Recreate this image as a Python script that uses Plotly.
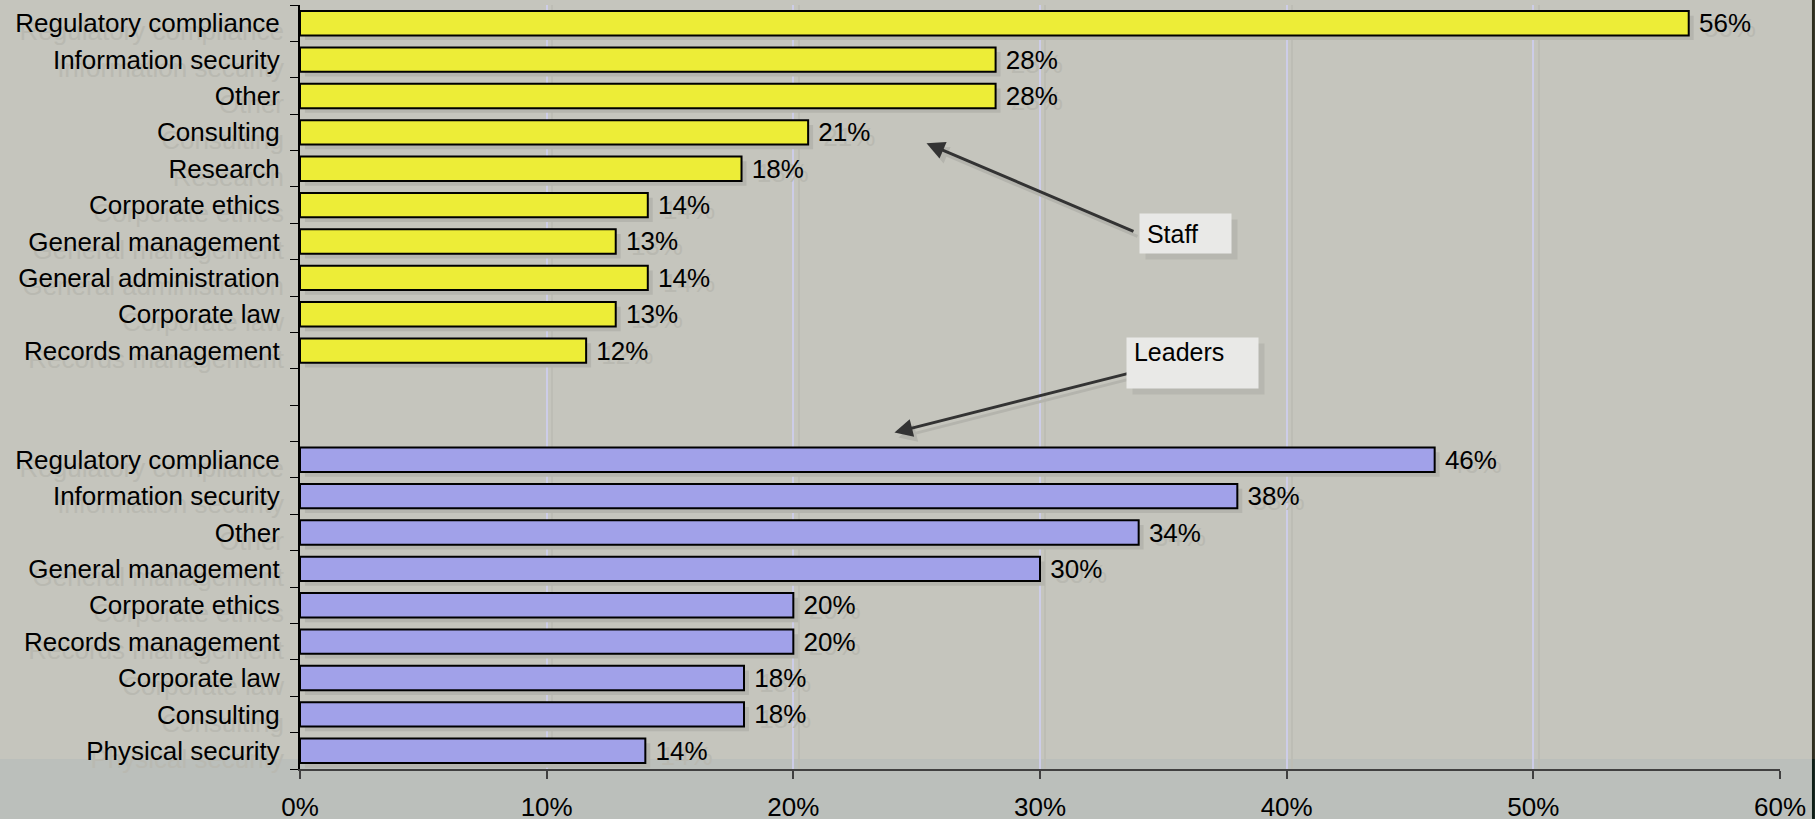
import plotly.graph_objects as go

# ---- data ----
staff_categories = ["Regulatory compliance", "Information security", "Other", "Consulting",
                    "Research", "Corporate ethics", "General management",
                    "General administration", "Corporate law", "Records management"]
staff_values = [56.3, 28.2, 28.2, 20.6, 17.9, 14.1, 12.8, 14.1, 12.8, 11.6]

leader_categories = ["Regulatory compliance", "Information security", "Other",
                     "General management", "Corporate ethics", "Records management",
                     "Corporate law", "Consulting", "Physical security"]
leader_values = [46.0, 38.0, 34.0, 30.0, 20.0, 20.0, 18.0, 18.0, 14.0]

gap_slots = 2
x_ticks = [0, 10, 20, 30, 40, 50, 60]
x_tick_labels = ["0%", "10%", "20%", "30%", "40%", "50%", "60%"]

# ---- derived positions (slot indices) ----
staff_pos = list(range(len(staff_categories)))
leader_start = len(staff_categories) + gap_slots
leader_pos = [leader_start + i for i in range(len(leader_categories))]
n_slots = leader_start + len(leader_categories)
all_pos = staff_pos + leader_pos
all_labels = staff_categories + leader_categories
boundaries = [i - 0.5 for i in range(n_slots + 1)]

FONT = "Arial, Liberation Sans, sans-serif"
FS = 26
BG = "#C5C5BD"
GHOST = "#B9B9B1"
YELLOW = "#EDED37"
PURPLE = "#A1A1E9"
BAR_W = 0.67


def labels(vals):
    return [f" {v:.0f}%" for v in vals]


fig = go.Figure()

# shadow bars (on main y axis, drawn underneath)
for pos, vals in ((staff_pos, staff_values), (leader_pos, leader_values)):
    fig.add_trace(go.Bar(
        y=pos, x=vals, base=0.2, orientation="h", width=BAR_W,
        offset=-BAR_W / 2 + 0.13,
        marker=dict(color="#B5B5AE", line=dict(width=0)),
        text=labels(vals), textposition="outside", constraintext="none",
        textfont=dict(family=FONT, size=FS, color=GHOST),
        cliponaxis=False, hoverinfo="skip", showlegend=False,
        xaxis="x", yaxis="y"))

# real bars (on overlaid y axis)
fig.add_trace(go.Bar(
    y=staff_pos, x=staff_values, orientation="h", width=BAR_W,
    marker=dict(color=YELLOW, line=dict(color="black", width=2)),
    text=labels(staff_values), textposition="outside", constraintext="none",
    textfont=dict(family=FONT, size=FS, color="black"),
    cliponaxis=False, showlegend=False, name="Staff",
    xaxis="x", yaxis="y2"))
fig.add_trace(go.Bar(
    y=leader_pos, x=leader_values, orientation="h", width=BAR_W,
    marker=dict(color=PURPLE, line=dict(color="black", width=2)),
    text=labels(leader_values), textposition="outside", constraintext="none",
    textfont=dict(family=FONT, size=FS, color="black"),
    cliponaxis=False, showlegend=False, name="Leaders",
    xaxis="x", yaxis="y2"))

yrange = [n_slots - 0.5, -0.5]

fig.update_layout(
    width=1815, height=819,
    margin=dict(l=300, r=35, t=5, b=50),
    paper_bgcolor=BG, plot_bgcolor="rgba(0,0,0,0)",
    barmode="overlay",
    font=dict(family=FONT, size=FS, color="black"),
    xaxis=dict(
        range=[0, 60], tickmode="array", tickvals=x_ticks, ticktext=x_tick_labels,
        showgrid=True, gridcolor="#CDCDE8", gridwidth=2,
        minor=dict(tickvals=[t + 0.22 for t in x_ticks[1:]], showgrid=True,
                   gridcolor="#BDBDB5", gridwidth=2, ticks=""),
        showline=True, linecolor="#404040", linewidth=2,
        ticks="outside", ticklen=8, tickcolor="#404040", tickwidth=2,
        ticklabelstandoff=6, automargin=False,
        tickfont=dict(family=FONT, size=FS, color="black"),
        zeroline=False, fixedrange=True),
    yaxis=dict(
        range=yrange, tickmode="array", tickvals=all_pos, ticktext=all_labels,
        tickfont=dict(family=FONT, size=FS, color=GHOST),
        ticks="", showgrid=False, showline=False, zeroline=False,
        ticklabelstandoff=15, ticklabelshift=-8, automargin=False),
    yaxis2=dict(
        range=yrange, overlaying="y", side="left", anchor="x",
        tickmode="array", tickvals=all_pos, ticktext=all_labels,
        tickfont=dict(family=FONT, size=FS, color="black"),
        ticks="", showgrid=False, zeroline=False,
        showline=True, linecolor="black", linewidth=2,
        minor=dict(tickvals=boundaries, ticks="outside", ticklen=8,
                   tickcolor="black", tickwidth=1, showgrid=False),
        ticklabelstandoff=13, automargin=False),
)

# background band at the bottom and dark right edge
fig.add_shape(type="rect", xref="paper", yref="paper", x0=-0.2027, x1=1.0236,
              y0=-0.0654, y1=0.0131, fillcolor="#BBBFBB", line=dict(width=0), layer="below")
fig.add_shape(type="rect", xref="paper", yref="paper", x0=1.0216, x1=1.0236,
              y0=0.0131, y1=1.0066, fillcolor="#2F2F20", line=dict(width=0), layer="above")
fig.add_shape(type="rect", xref="paper", yref="paper", x0=1.0216, x1=1.0236,
              y0=-0.0654, y1=0.0131, fillcolor="#0E1E16", line=dict(width=0), layer="above")

# arrows (with shadows)
arrows = [
    dict(x=25.4, y=3.3, ax=33.85, ay=5.74),
    dict(x=24.1, y=11.25, ax=33.85, ay=9.58),
]
for a in arrows:
    fig.add_annotation(x=a["x"], y=a["y"], ax=a["ax"], ay=a["ay"], xref="x", yref="y2",
                       axref="x", ayref="y2", text="", showarrow=True, arrowhead=2,
                       arrowsize=1.2, arrowwidth=3, arrowcolor="#B4B4AD",
                       xshift=4, yshift=-5)
    fig.add_annotation(x=a["x"], y=a["y"], ax=a["ax"], ay=a["ay"], xref="x", yref="y2",
                       axref="x", ayref="y2", text="", showarrow=True, arrowhead=2,
                       arrowsize=1.2, arrowwidth=3, arrowcolor="#333333")

# text boxes (with shadows)
boxes = [
    dict(text=" Staff", x=34.0, y=5.78, w=91, h=39, valign="middle"),
    dict(text=" Leaders", x=33.5, y=9.33, w=131, h=50, valign="top"),
]
for b in boxes:
    fig.add_annotation(x=b["x"], y=b["y"], xref="x", yref="y2", text="",
                       showarrow=False, xanchor="left", yanchor="middle",
                       width=b["w"], height=b["h"], bgcolor="#B7B7B0",
                       xshift=6, yshift=-6, borderpad=0)
    fig.add_annotation(x=b["x"], y=b["y"], xref="x", yref="y2", text=b["text"],
                       showarrow=False, xanchor="left", yanchor="middle",
                       width=b["w"], height=b["h"], bgcolor="#E9E9E7",
                       align="left", valign=b["valign"], borderpad=0,
                       font=dict(family=FONT, size=FS - 1, color="black"))

fig.write_html("out.html",
               config={"displayModeBar": False},
               post_script="document.body.style.margin='0px';"
                           "document.body.style.overflow='hidden';")
